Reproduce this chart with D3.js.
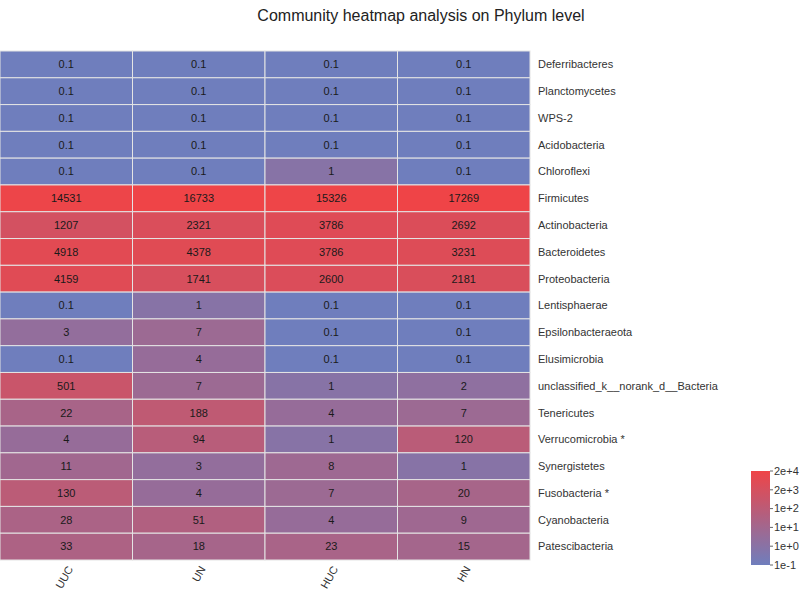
<!DOCTYPE html>
<html>
<head>
<meta charset="utf-8">
<script src="https://cdn.jsdelivr.net/npm/d3@7"></script>
<style>
  body { margin: 0; background: #fff; }
  svg { display: block; font-family: "Liberation Sans", Arial, sans-serif; }
</style>
</head>
<body>
<svg id="chart" width="800" height="592"></svg>
<script>
const title = "Community heatmap analysis on Phylum level";
const samples = ["UUC", "UN", "HUC", "HN"];
const phyla = [
  "Deferribacteres", "Planctomycetes", "WPS-2", "Acidobacteria", "Chloroflexi",
  "Firmicutes", "Actinobacteria", "Bacteroidetes", "Proteobacteria", "Lentisphaerae",
  "Epsilonbacteraeota", "Elusimicrobia", "unclassified_k__norank_d__Bacteria",
  "Tenericutes", "Verrucomicrobia *", "Synergistetes", "Fusobacteria *",
  "Cyanobacteria", "Patescibacteria"
];
const valUUC = [0.1, 0.1, 0.1, 0.1, 0.1, 14531, 1207, 4918, 4159, 0.1, 3, 0.1, 501, 22, 4, 11, 130, 28, 33];
const valUN  = [0.1, 0.1, 0.1, 0.1, 0.1, 16733, 2321, 4378, 1741, 1, 7, 4, 7, 188, 94, 3, 4, 51, 18];
const valHUC = [0.1, 0.1, 0.1, 0.1, 1, 15326, 3786, 3786, 2600, 0.1, 0.1, 0.1, 1, 4, 1, 8, 7, 4, 23];
const valHN  = [0.1, 0.1, 0.1, 0.1, 0.1, 17269, 2692, 3231, 2181, 0.1, 0.1, 0.1, 2, 7, 120, 1, 20, 9, 15];
const legendLabels = ["1e-1", "1e+0", "1e+1", "1e+2", "2e+3", "2e+4"];

(function () {
const series = [valUUC, valUN, valHUC, valHN];
const cells = [];
phyla.forEach((p, i) => samples.forEach((s, j) => cells.push({ row: p, col: s, v: series[j][i] })));

const svg = d3.select("#chart");
const mLeft = 0, mRight = 530, mTop = 51, mBottom = 560;

const x = d3.scaleBand().domain(samples).range([mLeft, mRight]);
const y = d3.scaleBand().domain(phyla).range([mTop, mBottom]);

const maxV = d3.max(cells, d => d.v);
const minV = d3.min(cells, d => d.v);
const logDomain = [Math.log10(minV), Math.log10(maxV)];
const color = d3.scaleLinear().domain(logDomain).range(["#6f7ebd", "#ef4447"]).interpolate(d3.interpolateRgb);

// title
svg.append("text")
  .attr("x", 421).attr("y", 21)
  .attr("text-anchor", "middle")
  .attr("font-size", 16).attr("fill", "#222")
  .text(title);

// cells
svg.append("g").selectAll("rect").data(cells).join("rect")
  .attr("x", d => x(d.col)).attr("y", d => y(d.row))
  .attr("width", x.bandwidth()).attr("height", y.bandwidth())
  .attr("fill", d => color(Math.log10(d.v)))
  .attr("stroke", "#e4e4e4").attr("stroke-width", 1);

// values
svg.append("g").selectAll("text").data(cells).join("text")
  .attr("x", d => x(d.col) + x.bandwidth() / 2)
  .attr("y", d => y(d.row) + y.bandwidth() / 2)
  .attr("dy", "0.35em")
  .attr("text-anchor", "middle")
  .attr("font-size", 11).attr("fill", "#1a1a1a")
  .text(d => d.v);

// row labels
svg.append("g").selectAll("text").data(phyla).join("text")
  .attr("x", mRight + 8)
  .attr("y", d => y(d) + y.bandwidth() / 2)
  .attr("dy", "0.35em")
  .attr("font-size", 11).attr("fill", "#333")
  .text(d => d);

// column labels
svg.append("g").selectAll("text").data(samples).join("text")
  .attr("transform", d => `translate(${x(d) + x.bandwidth() / 2 + 4},${mBottom + 7}) rotate(-60)`)
  .attr("text-anchor", "end")
  .attr("dy", "0.35em")
  .attr("font-size", 11).attr("fill", "#333")
  .text(d => d);

// legend
const lgX = 751, lgW = 19, lgTop = 471, lgBot = 565;
const defs = svg.append("defs");
const grad = defs.append("linearGradient").attr("id", "lg")
  .attr("x1", 0).attr("y1", 1).attr("x2", 0).attr("y2", 0);
d3.range(0, 1.0001, 0.1).forEach(t => {
  grad.append("stop").attr("offset", t)
    .attr("stop-color", color(logDomain[0] + t * (logDomain[1] - logDomain[0])));
});
svg.append("rect")
  .attr("x", lgX).attr("y", lgTop).attr("width", lgW).attr("height", lgBot - lgTop)
  .attr("fill", "url(#lg)");

const ly = d3.scaleLinear().domain([0, legendLabels.length - 1]).range([lgBot, lgTop]);
const lg = svg.append("g");
legendLabels.forEach((l, i) => {
  lg.append("line")
    .attr("x1", lgX + lgW).attr("x2", lgX + lgW + 3)
    .attr("y1", ly(i)).attr("y2", ly(i))
    .attr("stroke", "#666").attr("stroke-width", 1);
  lg.append("text")
    .attr("x", lgX + lgW + 4).attr("y", ly(i))
    .attr("dy", "0.35em")
    .attr("font-size", 11).attr("fill", "#333")
    .text(l);
});
})();
</script>
</body>
</html>
